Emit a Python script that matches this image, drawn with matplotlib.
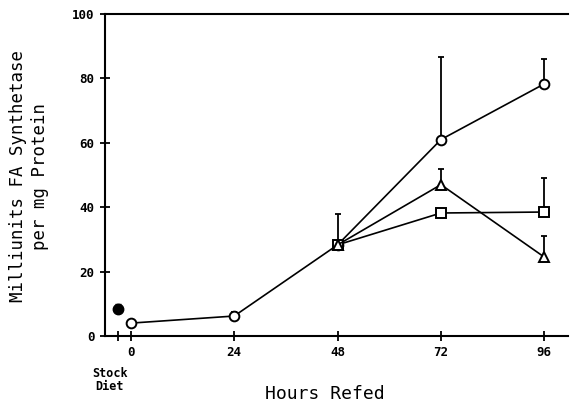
import matplotlib
matplotlib.use("Agg")
import matplotlib.pyplot as plt
import numpy as np

# values
stock_x = [-3]
stock_y = [8.4]
stock_err = [1.5]

hours_a = [0, 24, 48, 72, 96]
circle_y = [4.0, 6.2, 28.3, 61.0, 78.3]
circle_err = [0.0, 1.3, 9.7, 25.6, 7.7]

hours_b = [48, 72, 96]
triangle_y = [28.3, 47.0, 24.5]
triangle_err = [0.0, 5.0, 6.5]
square_y = [28.3, 38.2, 38.5]
square_err = [0.0, 0.5, 10.5]

xticks = [-3, 0, 24, 48, 72, 96]
xticklabels = ["", "0", "24", "48", "72", "96"]
yticks = [0, 20, 40, 60, 80, 100]

mono = "DejaVu Sans Mono"
W, H = 570, 407

fig = plt.figure(figsize=(5.7, 4.07), dpi=100)
ax = fig.add_axes([105 / W, 1 - 336 / H, 463 / W, 322 / H])

def series(x, y, err, marker, ms, fill):
    ax.errorbar(x, y, yerr=[np.zeros(len(err)), err], fmt="none",
                ecolor="black", elinewidth=1.3, capsize=2, capthick=1.3, zorder=2)
    ax.plot(x, y, color="black", lw=1.2, marker=marker, ms=ms,
            mfc=fill, mec="black", mew=1.4, zorder=3)

series(hours_a, circle_y, circle_err, "o", 7, "white")
series(hours_b, square_y, square_err, "s", 6.5, "white")
series(hours_b, triangle_y, triangle_err, "^", 7.5, "white")
ax.errorbar(stock_x, stock_y, yerr=[[0], stock_err], fmt="o", ms=7.5,
            color="black", capsize=2, elinewidth=1.3, zorder=3)

ax.set_xlim(-6, 101.5)
ax.set_ylim(0, 100)
ax.set_xticks(xticks)
ax.set_xticklabels(xticklabels, fontfamily=mono, fontweight="bold", fontsize=9)
ax.set_yticks(yticks)
ax.set_yticklabels([str(v) for v in yticks], fontfamily=mono, fontweight="bold", fontsize=9)
ax.tick_params(direction="inout", length=7, width=1.3, pad=4)

for s in ["left", "bottom", "top"]:
    ax.spines[s].set_linewidth(1.5)
ax.spines["right"].set_visible(False)

fig.text(110 / W, 1 - 367 / H, "Stock\nDiet", ha="center", va="top",
         fontfamily=mono, fontweight="bold", fontsize=8.5, linespacing=0.95)

fig.text(325 / W, 1 - 394 / H, "Hours Refed", ha="center", va="center",
         fontfamily=mono, fontsize=13)
fig.text(29 / W, 1 - 176 / H, "Milliunits FA Synthetase\nper mg Protein",
         ha="center", va="center", rotation=90, multialignment="center",
         fontfamily=mono, fontsize=12.5, linespacing=1.25)

fig.savefig("out.png", dpi=100)
